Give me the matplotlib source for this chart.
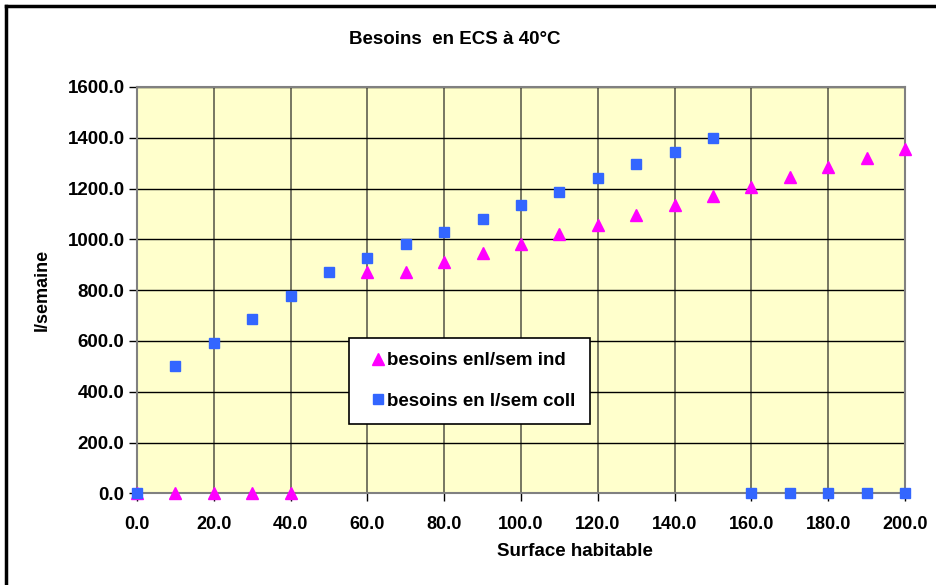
import matplotlib.pyplot as plt
from matplotlib.lines import Line2D

plt.rcParams['font.family'] = ['Liberation Sans', 'DejaVu Sans']
plt.rcParams['font.weight'] = 'bold'

nan = float('nan')

# surface habitable (m2)
surface = [0, 10, 20, 30, 40, 50, 60, 70, 80, 90, 100,
           110, 120, 130, 140, 150, 160, 170, 180, 190, 200]

# besoins individuels (l/semaine)
besoins_ind = [0, 0, 0, 0, 0, nan, 871, 871, 909, 945, 983,
               1021, 1058, 1096, 1134, 1169, 1207, 1247, 1283, 1320, 1356]

# besoins collectifs (l/semaine)
besoins_coll = [0, 500, 592, 686, 778, 872, 925, 980, 1030, 1082, 1136,
                1187, 1242, 1298, 1345, 1400, 0, 0, 0, 0, 0]

x_ticks = [0, 20, 40, 60, 80, 100, 120, 140, 160, 180, 200]
y_ticks = [0, 200, 400, 600, 800, 1000, 1200, 1400, 1600]

fig = plt.figure(figsize=(9.36, 5.85), dpi=100)
ax = fig.add_axes([0.1464, 0.1567, 0.8205, 0.6946])
ax.set_facecolor('#FFFFCC')

ax.plot(surface, besoins_ind, linestyle='none', marker='^', markersize=8,
        color='#FF00FF', label='besoins enl/sem ind', zorder=3, clip_on=False)
ax.plot(surface, besoins_coll, linestyle='none', marker='s', markersize=7,
        color='#3366FF', label='besoins en l/sem coll', zorder=4, clip_on=False)

ax.set_xlim(0, 200)
ax.set_ylim(0, 1600)
ax.set_xticks(x_ticks)
ax.set_yticks(y_ticks)
ax.set_xticklabels([f"{v:.1f}" for v in x_ticks], fontsize=13, fontweight='bold')
ax.set_yticklabels([f"{v:.1f}" for v in y_ticks], fontsize=13.5, fontweight='bold')
ax.tick_params(direction='out', length=6, width=1, color='black')
ax.tick_params(axis='x', pad=10)
ax.tick_params(axis='y', pad=3)

ax.yaxis.grid(True, color='black', linewidth=1)
ax.xaxis.grid(True, color='#606050', linewidth=1.2)
ax.set_axisbelow(True)
for s in ax.spines.values():
    s.set_color('#808080')
    s.set_linewidth(1.5)

fig.text(42 / 936, 1 - 290 / 585, 'l/semaine', ha='center', va='center',
         rotation=90, fontsize=13, fontweight='bold')
fig.text(575 / 936, 1 - 551 / 585, 'Surface habitable', ha='center', va='center',
         fontsize=13.5, fontweight='bold')
fig.text(455 / 936, 1 - 40 / 585, 'Besoins  en ECS à 40°C', ha='center', va='center',
         fontsize=13.5, fontweight='bold')

handles = [
    Line2D([], [], linestyle='none', marker='^', markersize=8, color='#FF00FF'),
    Line2D([], [], linestyle='none', marker='s', markersize=7, color='#3366FF'),
]
leg = fig.legend(handles, ['besoins enl/sem ind', 'besoins en l/sem coll'],
                 loc='upper left', bbox_to_anchor=(349 / 936, 1 - 338 / 585),
                 frameon=True, fancybox=False, edgecolor='black', framealpha=1,
                 prop={'size': 13.5, 'weight': 'bold'}, handletextpad=-0.3,
                 handlelength=1.6, labelspacing=1.25, borderpad=0.75, borderaxespad=0)
leg.get_frame().set_linewidth(1.2)

# cadre extérieur (haut et gauche)
fig.add_artist(Line2D([6 / 936, 6 / 936], [0, 1 - 6 / 585], color='black',
                      linewidth=2.5, transform=fig.transFigure))
fig.add_artist(Line2D([6 / 936, 1], [1 - 6 / 585, 1 - 6 / 585], color='black',
                      linewidth=2.5, transform=fig.transFigure))

fig.savefig('out.png', dpi=100)
